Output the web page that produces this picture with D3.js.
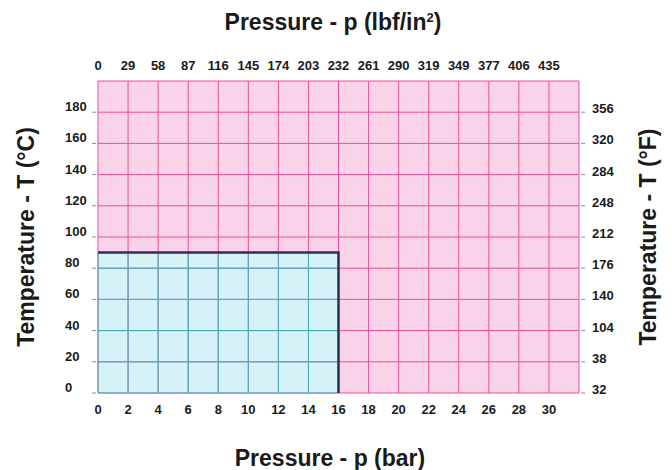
<!DOCTYPE html>
<html lang="en">
  <head>
    <meta charset="UTF-8" />
    <title>Pressure / Temperature Range</title>
    <script src="https://d3js.org/d3.v7.min.js"></script>
    <style>
      body {
        margin: 0;
        background: #ffffff;
        font-family: "Liberation Sans", Arial, sans-serif;
      }
      .tick-label {
        font-size: 13px;
        font-weight: bold;
        fill: #1a1a1a;
      }
      .axis-title {
        font-size: 23px;
        font-weight: bold;
        fill: #1a1a1a;
      }
    </style>
  </head>
  <body>
    <div id="chart"></div>
    <script>
      // Data
      const barTicks = [0, 2, 4, 6, 8, 10, 12, 14, 16, 18, 20, 22, 24, 26, 28, 30];
      const psiLabels = [0, 29, 58, 87, 116, 145, 174, 203, 232, 261, 290, 319, 349, 377, 406, 435];
      const celsiusTicks = [0, 20, 40, 60, 80, 100, 120, 140, 160, 180];
      const fahrenheitLabels = [32, 38, 104, 140, 176, 212, 248, 284, 320, 356];
      const pressureMax = 32; // bar
      const tempMax = 200; // °C
      // allowed operating range (lower left box)
      const limitPressure = 16;
      const limitTemp = 90;

      const W = 672,
        H = 470;
      const margin = { top: 81, right: 93, bottom: 77, left: 98 };
      const width = W - margin.left - margin.right,
        height = H - margin.top - margin.bottom;

      const svg = d3
        .select("#chart")
        .append("svg")
        .attr("width", W)
        .attr("height", H);

      const g = svg
        .append("g")
        .attr("transform", `translate(${margin.left},${margin.top})`);

      const x = d3.scaleLinear().domain([0, pressureMax]).range([0, width]);
      const y = d3.scaleLinear().domain([0, tempMax]).range([height, 0]);

      // backgrounds
      g.append("rect")
        .attr("width", width)
        .attr("height", height)
        .attr("fill", "#f9d3e7");

      g.append("rect")
        .attr("x", x(0))
        .attr("y", y(limitTemp))
        .attr("width", x(limitPressure) - x(0))
        .attr("height", y(0) - y(limitTemp))
        .attr("fill", "#d5f2f9");

      const xGrid = d3.range(0, pressureMax + 1, 2);
      const yGrid = d3.range(0, tempMax + 1, 20);

      // pink grid everywhere
      g.append("g")
        .selectAll("line")
        .data(xGrid)
        .join("line")
        .attr("x1", (d) => x(d))
        .attr("x2", (d) => x(d))
        .attr("y1", 0)
        .attr("y2", height)
        .attr("stroke", "#ec4f9f")
        .attr("stroke-width", 1);

      g.append("g")
        .selectAll("line")
        .data(yGrid)
        .join("line")
        .attr("x1", 0)
        .attr("x2", width)
        .attr("y1", (d) => y(d))
        .attr("y2", (d) => y(d))
        .attr("stroke", "#ec4f9f")
        .attr("stroke-width", 1);

      // teal grid inside the allowed box
      g.append("g")
        .selectAll("line")
        .data(xGrid.filter((d) => d <= limitPressure))
        .join("line")
        .attr("x1", (d) => x(d))
        .attr("x2", (d) => x(d))
        .attr("y1", y(limitTemp))
        .attr("y2", height)
        .attr("stroke", "#3fb4b8")
        .attr("stroke-width", 1);

      g.append("g")
        .selectAll("line")
        .data(yGrid.filter((d) => d <= limitTemp))
        .join("line")
        .attr("x1", 0)
        .attr("x2", x(limitPressure))
        .attr("y1", (d) => y(d))
        .attr("y2", (d) => y(d))
        .attr("stroke", "#3fb4b8")
        .attr("stroke-width", 1);

      // boundary of the allowed range
      g.append("path")
        .attr(
          "d",
          d3.line()([
            [x(0), y(limitTemp)],
            [x(limitPressure), y(limitTemp)],
            [x(limitPressure), y(0)],
          ])
        )
        .attr("fill", "none")
        .attr("stroke", "#2b3050")
        .attr("stroke-width", 2.5);

      // bottom axis (bar)
      g.append("g")
        .selectAll("text")
        .data(barTicks)
        .join("text")
        .attr("class", "tick-label")
        .attr("x", (d) => x(d))
        .attr("y", height + 21)
        .attr("text-anchor", "middle")
        .text((d) => d);

      // top axis (lbf/in2)
      g.append("g")
        .selectAll("text")
        .data(barTicks)
        .join("text")
        .attr("class", "tick-label")
        .attr("x", (d) => x(d))
        .attr("y", -11)
        .attr("text-anchor", "middle")
        .text((d, i) => psiLabels[i]);

      // left axis (°C)
      const leftAxis = g.append("g");
      leftAxis
        .selectAll("line")
        .data(celsiusTicks)
        .join("line")
        .attr("x1", -6)
        .attr("x2", -2)
        .attr("y1", (d) => y(d))
        .attr("y2", (d) => y(d))
        .attr("stroke", "#8a8a9a");
      leftAxis
        .selectAll("text")
        .data(celsiusTicks)
        .join("text")
        .attr("class", "tick-label")
        .attr("x", -33)
        .attr("y", (d) => y(d) - 1)
        .text((d) => d);

      // right axis (°F)
      const rightAxis = g.append("g");
      rightAxis
        .selectAll("line")
        .data(celsiusTicks)
        .join("line")
        .attr("x1", width + 2)
        .attr("x2", width + 6)
        .attr("y1", (d) => y(d))
        .attr("y2", (d) => y(d))
        .attr("stroke", "#8a8a9a");
      rightAxis
        .selectAll("text")
        .data(celsiusTicks)
        .join("text")
        .attr("class", "tick-label")
        .attr("x", width + 13)
        .attr("y", (d) => y(d) + 1)
        .text((d, i) => fahrenheitLabels[i]);

      // axis titles
      const topTitle = svg
        .append("text")
        .attr("class", "axis-title")
        .attr("x", 333)
        .attr("y", 30)
        .attr("font-size", 22)
        .attr("text-anchor", "middle");
      topTitle.append("tspan").text("Pressure - p (lbf/in");
      topTitle.append("tspan").attr("dy", -8).attr("font-size", 13).text("2");
      topTitle.append("tspan").attr("dy", 8).text(")");

      svg
        .append("text")
        .attr("class", "axis-title")
        .attr("x", 330)
        .attr("y", 466)
        .attr("text-anchor", "middle")
        .text("Pressure - p (bar)");

      svg
        .append("text")
        .attr("class", "axis-title")
        .attr("transform", "translate(34,237)rotate(-90)")
        .attr("text-anchor", "middle")
        .text("Temperature - T (°C)");

      svg
        .append("text")
        .attr("class", "axis-title")
        .attr("transform", "translate(656,237)rotate(-90)")
        .attr("text-anchor", "middle")
        .text("Temperature - T (°F)");
    </script>
  </body>
</html>
